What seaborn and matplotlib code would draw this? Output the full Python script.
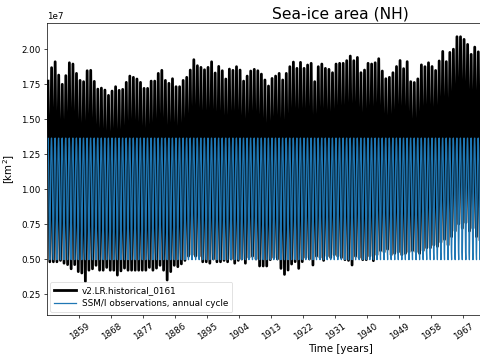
import numpy as np
import pandas as pd
import matplotlib
matplotlib.use("Agg")
import matplotlib.pyplot as plt
import seaborn as sns

# ---- data (sea-ice area, units of 1e7 km^2 for model, 1e6 km^2 for obs) ----
years = np.arange(1850, 1972)
model_max = [1.771, 1.867, 1.909, 1.814, 1.748, 1.810, 1.902, 1.893, 1.826, 1.776,
             1.767, 1.845, 1.848, 1.769, 1.714, 1.721, 1.707, 1.669, 1.700, 1.731,
             1.705, 1.712, 1.762, 1.807, 1.798, 1.786, 1.762, 1.719, 1.719, 1.771,
             1.771, 1.826, 1.848, 1.776, 1.755, 1.788, 1.731, 1.731, 1.776, 1.798,
             1.850, 1.924, 1.881, 1.869, 1.852, 1.869, 1.909, 1.829, 1.876, 1.845,
             1.786, 1.857, 1.848, 1.874, 1.850, 1.771, 1.807, 1.843, 1.855, 1.845,
             1.821, 1.779, 1.736, 1.790, 1.807, 1.826, 1.779, 1.826, 1.874, 1.907,
             1.862, 1.905, 1.862, 1.886, 1.898, 1.767, 1.874, 1.893, 1.862, 1.855,
             1.831, 1.893, 1.898, 1.898, 1.917, 1.950, 1.917, 1.940, 1.831, 1.850,
             1.898, 1.893, 1.902, 1.931, 1.843, 1.788, 1.798, 1.831, 1.875, 1.918,
             1.860, 1.910, 1.767, 1.761, 1.787, 1.887, 1.874, 1.902, 1.875, 1.847,
             1.915, 1.983, 1.910, 1.976, 1.999, 2.088, 2.088, 2.069, 2.033, 1.962,
             2.014, 1.980]
model_min = [0.48, 0.48, 0.48, 0.49, 0.47, 0.46, 0.43, 0.46, 0.41, 0.40,
             0.34, 0.42, 0.43, 0.455, 0.42, 0.42, 0.44, 0.42, 0.42, 0.385,
             0.415, 0.435, 0.42, 0.42, 0.42, 0.42, 0.42, 0.42, 0.44, 0.42,
             0.435, 0.455, 0.42, 0.35, 0.41, 0.455, 0.445, 0.465, 0.49, 0.52,
             0.53, 0.52, 0.52, 0.48, 0.48, 0.47, 0.50, 0.48, 0.48, 0.49,
             0.48, 0.50, 0.47, 0.49, 0.50, 0.47, 0.51, 0.52, 0.50, 0.45,
             0.45, 0.45, 0.495, 0.51, 0.50, 0.433, 0.39, 0.421, 0.464, 0.481,
             0.433, 0.481, 0.51, 0.50, 0.457, 0.52, 0.51, 0.49, 0.52, 0.51,
             0.53, 0.52, 0.51, 0.495, 0.49, 0.457, 0.52, 0.51, 0.495, 0.495,
             0.52, 0.488, 0.53, 0.56, 0.55, 0.57, 0.53, 0.54, 0.55, 0.53,
             0.54, 0.55, 0.56, 0.55, 0.54, 0.56, 0.58, 0.58, 0.60, 0.59,
             0.62, 0.64, 0.60, 0.66, 0.70, 0.75, 0.72, 0.76, 0.70, 0.72,
             0.66, 0.64]
obs_years = np.arange(1850, 2015)
obs_cycle = [12.9, 13.6, 13.64, 13.0, 11.7, 9.9, 7.4, 5.5, 4.95, 6.7, 9.4, 11.5]

model_label = "v2.LR.historical_0161"
obs_label = "SSM/I observations, annual cycle"
xtick_years = [1859, 1868, 1877, 1886, 1895, 1904, 1913, 1922, 1931, 1940, 1949, 1958, 1967]
ytick_values = [0.25e7, 0.5e7, 0.75e7, 1.0e7, 1.25e7, 1.5e7, 1.75e7, 2.0e7]

# ---- build tables ----
t_model = np.column_stack([years + 2.5 / 12, years + 8.5 / 12]).ravel()
v_model = np.column_stack([model_max, model_min]).ravel() * 1e7
df_model = pd.DataFrame({"time": t_model, "area": v_model})

t_obs = (obs_years[:, None] + (np.arange(12) + 0.5) / 12).ravel()
v_obs = np.tile(np.array(obs_cycle) * 1e6, len(obs_years))
df_obs = pd.DataFrame({"time": t_obs, "area": v_obs})

# ---- plot ----
fig = plt.figure(figsize=(4.8, 3.6), dpi=100)
ax = fig.add_axes([47.3 / 480, 45 / 360, 586.7 / 480, 292 / 360])

sns.lineplot(data=df_model, x="time", y="area", color="black", linewidth=2.0,
             estimator=None, sort=False, ax=ax, label=model_label)
sns.lineplot(data=df_obs, x="time", y="area", color="#1f77b4", linewidth=0.9,
             estimator=None, sort=False, ax=ax, label=obs_label)

ax.set_xlim(1850, 2015)
ax.set_ylim(0.10e7, 2.186e7)
ax.set_xticks(xtick_years)
ax.set_yticks(ytick_values)
ax.tick_params(labelsize=6.3, length=2.4, width=0.5, pad=2.5)
ax.yaxis.get_offset_text().set_fontsize(6.3)
for lab in ax.get_xticklabels():
    lab.set_rotation(35)
    lab.set_ha("center")
for s in ax.spines.values():
    s.set_linewidth(0.5)

ax.set_title("Sea-ice area (NH)", fontsize=11.2, pad=3)
ax.set_xlabel("Time [years]", fontsize=7.4, labelpad=1.5)
ax.set_ylabel("[km$^2$]", fontsize=7.4, labelpad=3)
leg = ax.legend(loc="lower left", fontsize=6.4, borderaxespad=0.35,
                handlelength=2.4, handletextpad=0.7, borderpad=0.45,
                labelspacing=0.45)
leg.get_frame().set_linewidth(0.5)

fig.savefig("out.png", dpi=100)
